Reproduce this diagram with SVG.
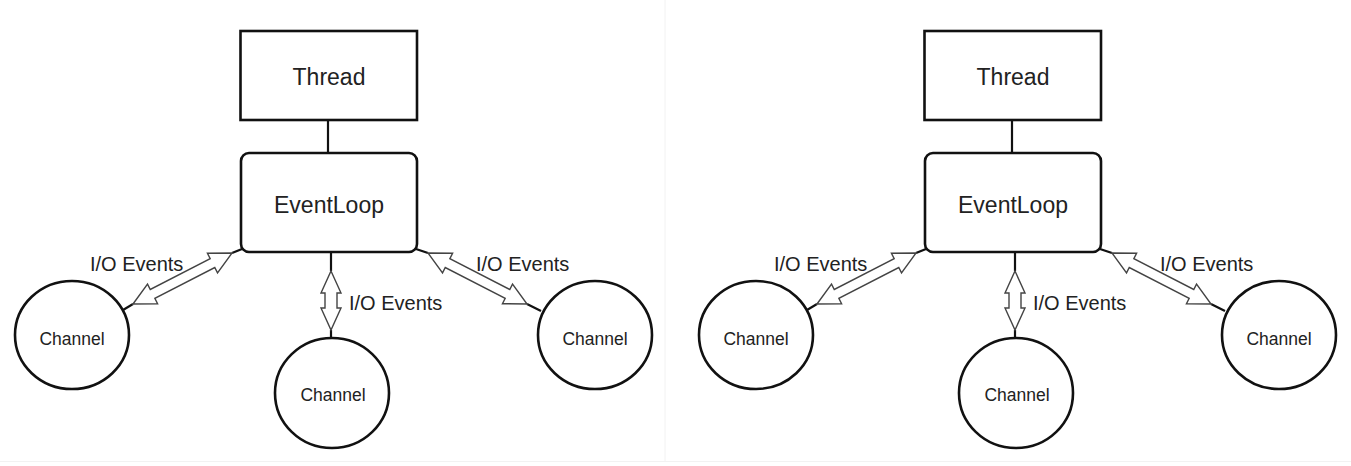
<svg xmlns="http://www.w3.org/2000/svg" width="1351" height="466" viewBox="0 0 1351 466">
<style>
.box{fill:#fff;stroke:#111;stroke-width:2.6}
.circ{fill:#fff;stroke:#111;stroke-width:2.6}
.ln{stroke:#111;stroke-width:2.2;fill:none}
.arr{fill:#fff;stroke:#444;stroke-width:1.4;stroke-linejoin:miter}
.big{font-family:"Liberation Sans",Arial,sans-serif;font-size:23px;fill:#222;text-anchor:middle}
.lbl{font-family:"Liberation Sans",Arial,sans-serif;font-size:20px;fill:#222}
.ch{font-family:"Liberation Sans",Arial,sans-serif;font-size:17.5px;fill:#222;text-anchor:middle}
</style>
<rect x="0" y="0" width="1351" height="466" fill="#fff"/>
<line x1="665" y1="0" x2="665" y2="461" stroke="#f2f2f2" stroke-width="1"/>
<line x1="0" y1="461.5" x2="1351" y2="461.5" stroke="#f2f2f2" stroke-width="1"/>

<g id="diagram-left">
  <g id="connectors-left">
    <line class="ln" x1="328" y1="120" x2="328" y2="153"/>
    <line class="ln" x1="331" y1="252" x2="331" y2="271"/>
    <line class="ln" x1="331" y1="330" x2="331" y2="339"/>
    <line class="ln" x1="242" y1="249" x2="232" y2="253"/>
    <line class="ln" x1="133" y1="304" x2="123" y2="310"/>
    <line class="ln" x1="416" y1="249" x2="428" y2="253"/>
    <line class="ln" x1="527" y1="304" x2="541" y2="311"/>
    <polygon class="arr" transform="translate(133,304) rotate(-27.25)" points="0,0 22,-11 22,-5 89.4,-5 89.4,-11 111.4,0 89.4,11 89.4,5 22,5 22,11"/>
    <polygon class="arr" transform="translate(428,253) rotate(27.25)" points="0,0 22,-11 22,-5 89.4,-5 89.4,-11 111.4,0 89.4,11 89.4,5 22,5 22,11"/>
    <polygon class="arr" transform="translate(331,271) rotate(90)" points="0,0 22,-10 22,-6 37,-6 37,-10 59,0 37,10 37,6 22,6 22,10"/>
    <text class="lbl" x="90" y="271">I/O Events</text>
    <text class="lbl" x="476" y="271">I/O Events</text>
    <text class="lbl" x="349" y="310">I/O Events</text>
  </g>
  <g id="thread-left"><rect class="box" x="240.5" y="31" width="176.5" height="89"/><text class="big" x="329" y="85">Thread</text></g>
  <g id="eventloop-left"><rect class="box" x="241" y="153" width="176" height="99" rx="8"/><text class="big" x="329" y="213">EventLoop</text></g>
  <g id="channel-left-1"><ellipse class="circ" cx="72" cy="335" rx="57" ry="54"/><text class="ch" x="72" y="345">Channel</text></g>
  <g id="channel-left-2"><ellipse class="circ" cx="332" cy="393" rx="57" ry="55"/><text class="ch" x="333" y="401">Channel</text></g>
  <g id="channel-left-3"><ellipse class="circ" cx="595" cy="335" rx="57" ry="54"/><text class="ch" x="595" y="345">Channel</text></g>
</g>

<g id="diagram-right" transform="translate(684,0)">
  <g id="connectors-right">
    <line class="ln" x1="328" y1="120" x2="328" y2="153"/>
    <line class="ln" x1="331" y1="252" x2="331" y2="271"/>
    <line class="ln" x1="331" y1="330" x2="331" y2="339"/>
    <line class="ln" x1="242" y1="249" x2="232" y2="253"/>
    <line class="ln" x1="133" y1="304" x2="123" y2="310"/>
    <line class="ln" x1="416" y1="249" x2="428" y2="253"/>
    <line class="ln" x1="527" y1="304" x2="541" y2="311"/>
    <polygon class="arr" transform="translate(133,304) rotate(-27.25)" points="0,0 22,-11 22,-5 89.4,-5 89.4,-11 111.4,0 89.4,11 89.4,5 22,5 22,11"/>
    <polygon class="arr" transform="translate(428,253) rotate(27.25)" points="0,0 22,-11 22,-5 89.4,-5 89.4,-11 111.4,0 89.4,11 89.4,5 22,5 22,11"/>
    <polygon class="arr" transform="translate(331,271) rotate(90)" points="0,0 22,-10 22,-6 37,-6 37,-10 59,0 37,10 37,6 22,6 22,10"/>
    <text class="lbl" x="90" y="271">I/O Events</text>
    <text class="lbl" x="476" y="271">I/O Events</text>
    <text class="lbl" x="349" y="310">I/O Events</text>
  </g>
  <g id="thread-right"><rect class="box" x="240.5" y="31" width="176.5" height="89"/><text class="big" x="329" y="85">Thread</text></g>
  <g id="eventloop-right"><rect class="box" x="241" y="153" width="176" height="99" rx="8"/><text class="big" x="329" y="213">EventLoop</text></g>
  <g id="channel-right-1"><ellipse class="circ" cx="72" cy="335" rx="57" ry="54"/><text class="ch" x="72" y="345">Channel</text></g>
  <g id="channel-right-2"><ellipse class="circ" cx="332" cy="393" rx="57" ry="55"/><text class="ch" x="333" y="401">Channel</text></g>
  <g id="channel-right-3"><ellipse class="circ" cx="595" cy="335" rx="57" ry="54"/><text class="ch" x="595" y="345">Channel</text></g>
</g>
</svg>
